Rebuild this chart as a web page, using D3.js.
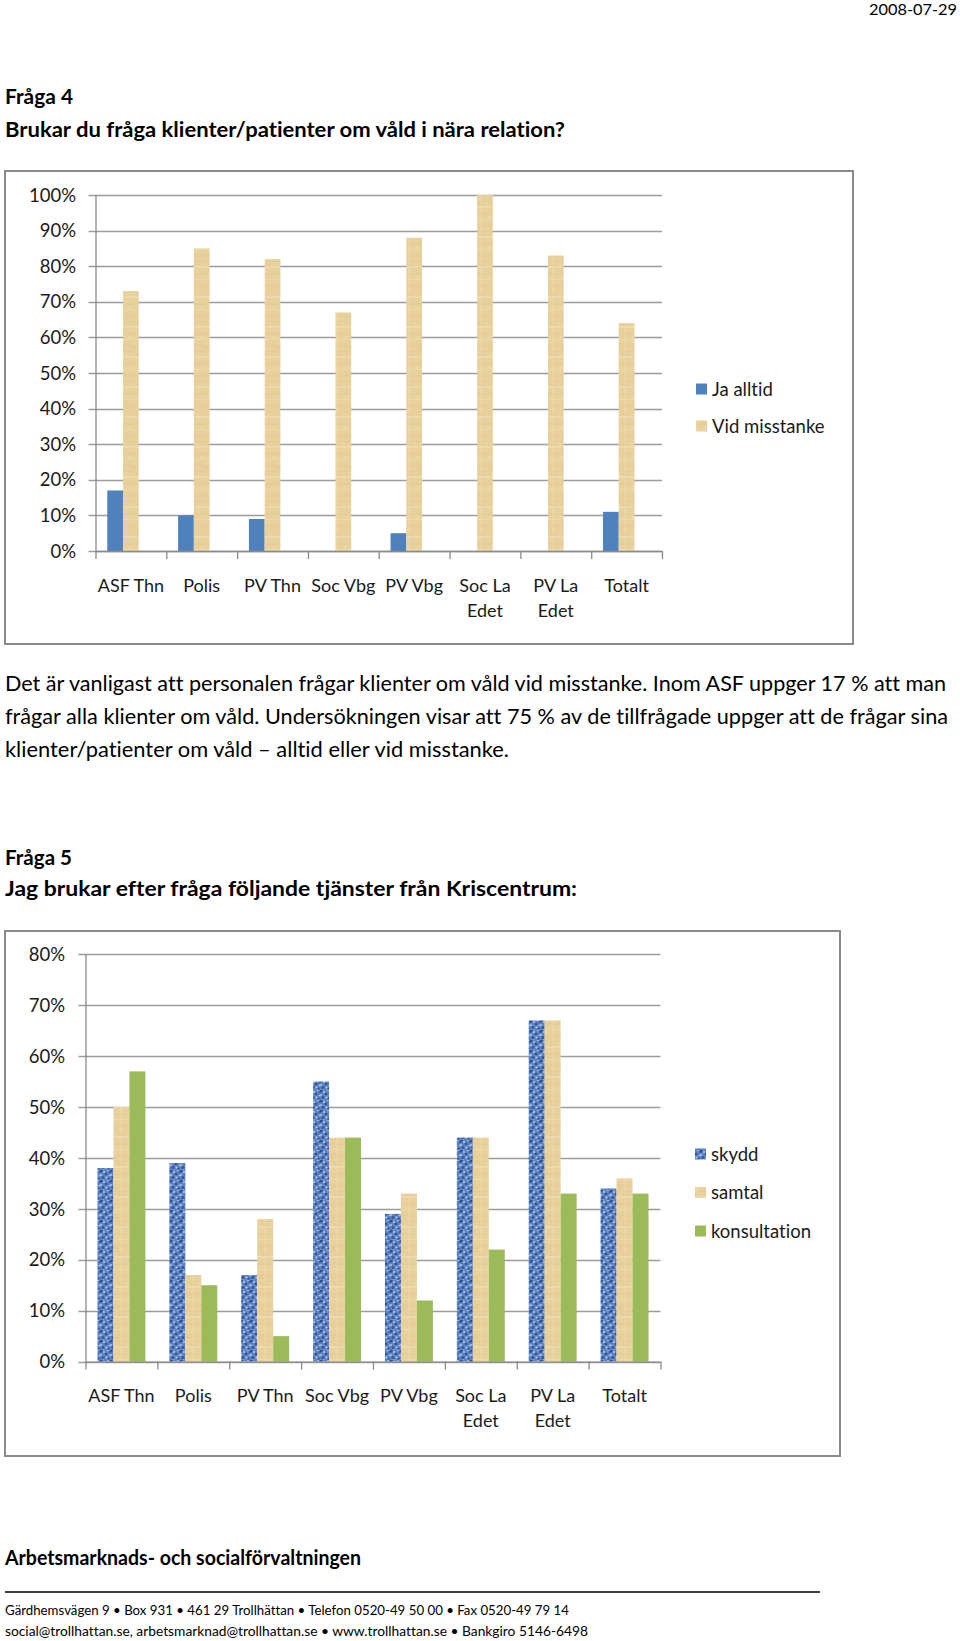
<!DOCTYPE html>
<html><head><meta charset="utf-8">
<script src="https://cdn.jsdelivr.net/npm/d3@7"></script>
<style>
body{margin:0;background:#fff}
svg{display:block}
text{font-family:Lato,"Open Sans",sans-serif;font-variant-ligatures:none;font-feature-settings:"liga" 0,"clig" 0,"dlig" 0}
</style>
</head><body>
<svg id="page" width="960" height="1641"></svg>
<script>
// ---------- DATA ----------
const categories = ["ASF Thn","Polis","PV Thn","Soc Vbg","PV Vbg","Soc La Edet","PV La Edet","Totalt"];
const categoryLines = [["ASF Thn"],["Polis"],["PV Thn"],["Soc Vbg"],["PV Vbg"],["Soc La","Edet"],["PV La","Edet"],["Totalt"]];

const q4Series = ["Ja alltid","Vid misstanke"];
const jaAlltid = [17,10,9,0,5,0,0,11];
const vidMisstanke = [73,85,82,67,88,100,83,64];
const q4Ticks = [0,10,20,30,40,50,60,70,80,90,100];

const q5Series = ["skydd","samtal","konsultation"];
const skydd = [38,39,17,55,29,44,67,34];
const samtal = [50,17,28,44,33,44,67,36];
const konsultation = [57,15,5,44,12,22,33,33];
const q5Ticks = [0,10,20,30,40,50,60,70,80];

const paragraphLines = [
  "Det är vanligast att personalen frågar klienter om våld vid misstanke. Inom ASF uppger 17 % att man",
  "frågar alla klienter om våld. Undersökningen visar att 75 % av de tillfrågade uppger att de frågar sina",
  "klienter/patienter om våld \u2013 alltid eller vid misstanke."
];

// ---------- PAGE ----------
const svg = d3.select("#page");
const defs = svg.append("defs");

// papyrus texture
const pap = defs.append("pattern").attr("id","papyrus").attr("patternUnits","userSpaceOnUse")
  .attr("width",18).attr("height",30);
pap.append("rect").attr("width",18).attr("height",30).attr("fill","#E9D19D");
[[0,3,18,2,"#DFC48B",0.35],[0,9,18,1,"#F1DFB5",0.5],[0,14,18,3,"#E2C88F",0.3],
 [0,21,18,1,"#DCC087",0.3],[0,26,18,2,"#F2E2BB",0.45],[4,0,1,30,"#E0C48C",0.25],
 [12,0,2,30,"#F1DFB4",0.35],[7,17,3,2,"#D9BD82",0.3],[2,6,4,3,"#F0DCB0",0.4],[10,23,5,3,"#DEC28A",0.3]].forEach(r=>{
  pap.append("rect").attr("x",r[0]).attr("y",r[1]).attr("width",r[2]).attr("height",r[3])
     .attr("fill",r[4]).attr("opacity",r[5]);
});

// denim texture
const den = defs.append("pattern").attr("id","denim").attr("patternUnits","userSpaceOnUse")
  .attr("width",10).attr("height",10);
den.append("rect").attr("width",10).attr("height",10).attr("fill","#5E84C2");
[[1,1,1.6,"#2D5193"],[6,4,1.3,"#2D5193"],[3,7.5,1.5,"#34599C"],[8.5,8.5,1.1,"#2D5193"],
 [9.5,2,0.9,"#3A5FA0"]].forEach(c=>den.append("circle").attr("cx",c[0]).attr("cy",c[1]).attr("r",c[2]).attr("fill",c[3]));
[[4,2,1.0],[8,0.5,0.8],[1,5,0.9],[6.5,7.5,1.1],[9.5,5.5,0.7],[3.5,9.8,0.6]].forEach(c=>
  den.append("circle").attr("cx",c[0]).attr("cy",c[1]).attr("r",c[2]).attr("fill","#B4CAEC"));

// text helper
function txt(x,y,s,opts={}){
  const t = svg.append("text").attr("x",x).attr("y",y).text(s)
    .attr("font-size",opts.size||21).attr("fill",opts.fill||"#000");
  if(opts.bold) t.attr("font-weight","bold");
  if(opts.anchor) t.attr("text-anchor",opts.anchor);
  if(opts.width) t.attr("textLength",opts.width).attr("lengthAdjust","spacingAndGlyphs");
  return t;
}

txt(957,15,"2008-07-29",{size:14.5,anchor:"end",width:88});
txt(5,104,"Fråga 4",{size:20,bold:true,width:68});
txt(5,137,"Brukar du fråga klienter/patienter om våld i nära relation?",{size:20,bold:true,width:560});

paragraphLines.forEach((l,i)=>{
  const widths=[941,943,504];
  txt(5,691+i*33,l,{size:21,width:widths[i]});
});

txt(5,865,"Fråga 5",{size:20,bold:true,width:67});
txt(5,896,"Jag brukar efter fråga följande tjänster från Kriscentrum:",{size:20,bold:true,width:572});

txt(5,1565,"Arbetsmarknads- och socialförvaltningen",{size:20,bold:true,width:356});
svg.append("line").attr("x1",5).attr("x2",820).attr("y1",1592).attr("y2",1592)
  .attr("stroke","#000").attr("stroke-width",1.3);
txt(5,1615,"Gärdhemsvägen 9 \u2022 Box 931 \u2022 461 29 Trollhättan \u2022 Telefon 0520-49 50 00 \u2022 Fax 0520-49 79 14",{size:14,width:564});
txt(5,1636,"social@trollhattan.se, arbetsmarknad@trollhattan.se \u2022 www.trollhattan.se \u2022 Bankgiro 5146-6498",{size:14,width:583});

// ---------- CHART ----------
function drawChart(cfg){
  const g = svg.append("g");
  // frame
  g.append("rect").attr("x",cfg.frame[0]).attr("y",cfg.frame[1])
    .attr("width",cfg.frame[2]-cfg.frame[0]).attr("height",cfg.frame[3]-cfg.frame[1])
    .attr("fill","#fff").attr("stroke","#8A8A8A").attr("stroke-width",2);

  const x0 = d3.scaleBand().domain(categories).range([cfg.left,cfg.right]).padding(0);
  const slots = cfg.series.concat(cfg.extraSlots||[]);
  const x1 = d3.scaleBand().domain(slots).range([0,x0.bandwidth()]).paddingInner(0).paddingOuter(0.75);
  const y = d3.scaleLinear().domain([0,cfg.max]).range([cfg.bottom,cfg.top]);

  // gridlines + y tick marks
  g.selectAll(".grid").data(cfg.ticks).enter().append("line")
    .attr("x1",cfg.left-7).attr("x2",cfg.right)
    .attr("y1",d=>Math.round(y(d))+0.5).attr("y2",d=>Math.round(y(d))+0.5)
    .attr("stroke","#9C9C9C").attr("stroke-width",1.3);
  // y axis line
  g.append("line").attr("x1",cfg.left+0.5).attr("x2",cfg.left+0.5)
    .attr("y1",y(cfg.max)).attr("y2",cfg.bottom).attr("stroke","#8A8A8A").attr("stroke-width",1.3);
  // tick labels
  g.selectAll(".tl").data(cfg.ticks).enter().append("text")
    .attr("x",cfg.labelRight).attr("y",d=>y(d)).attr("dy","0.36em")
    .attr("text-anchor","end").attr("font-size",18.5).attr("fill","#1a1a1a")
    .text(d=>d+"%");

  // bars
  cfg.series.forEach((s,si)=>{
    g.selectAll(".b"+si).data(cfg.values[si]).enter().append("rect")
      .attr("x",(d,i)=>x0(categories[i])+x1(s))
      .attr("width",x1.bandwidth())
      .attr("y",d=>y(d))
      .attr("height",d=>cfg.bottom-y(d))
      .attr("fill",cfg.fills[si]);
  });

  // x axis line & ticks
  g.append("line").attr("x1",cfg.left).attr("x2",cfg.right)
    .attr("y1",cfg.bottom+0.5).attr("y2",cfg.bottom+0.5).attr("stroke","#8A8A8A").attr("stroke-width",1.3);
  const bounds = categories.map(c=>x0(c)).concat([cfg.right]);
  g.selectAll(".xt").data(bounds).enter().append("line")
    .attr("x1",d=>d+0.5).attr("x2",d=>d+0.5).attr("y1",cfg.bottom).attr("y2",cfg.bottom+8)
    .attr("stroke","#8A8A8A").attr("stroke-width",1.3);

  // category labels
  categories.forEach((c,i)=>{
    const t = g.append("text").attr("x",x0(c)+x0.bandwidth()/2).attr("y",cfg.catY)
      .attr("text-anchor","middle").attr("font-size",18).attr("fill","#1a1a1a");
    categoryLines[i].forEach((l,li)=>{
      t.append("tspan").attr("x",x0(c)+x0.bandwidth()/2).attr("dy",li===0?"0.36em":24.5).text(l);
    });
  });

  // legend
  cfg.series.forEach((s,si)=>{
    const cy = cfg.legendY[si];
    g.append("rect").attr("x",cfg.legendX).attr("y",cy-5.5).attr("width",11).attr("height",11)
      .attr("fill",cfg.fills[si]);
    g.append("text").attr("x",cfg.legendX+16).attr("y",cy).attr("dy","0.36em")
      .attr("font-size",18.5).attr("fill","#1a1a1a").text(s);
  });
}

drawChart({
  frame:[5,171,853,644],
  left:95.5, right:662, top:195, bottom:551, max:100,
  ticks:q4Ticks, labelRight:76,
  series:q4Series, extraSlots:["(tom)"],
  values:[jaAlltid,vidMisstanke],
  fills:["#4F81BD","url(#papyrus)"],
  catY:586,
  legendX:696, legendY:[389,426]
});

drawChart({
  frame:[5,931,840,1456],
  left:85.5, right:660.5, top:954.3, bottom:1361.6, max:80,
  ticks:q5Ticks, labelRight:65,
  series:q5Series,
  values:[skydd,samtal,konsultation],
  fills:["url(#denim)","url(#papyrus)","#9BBB59"],
  catY:1396,
  legendX:695, legendY:[1154,1192.5,1231]
});
</script>
</body></html>
